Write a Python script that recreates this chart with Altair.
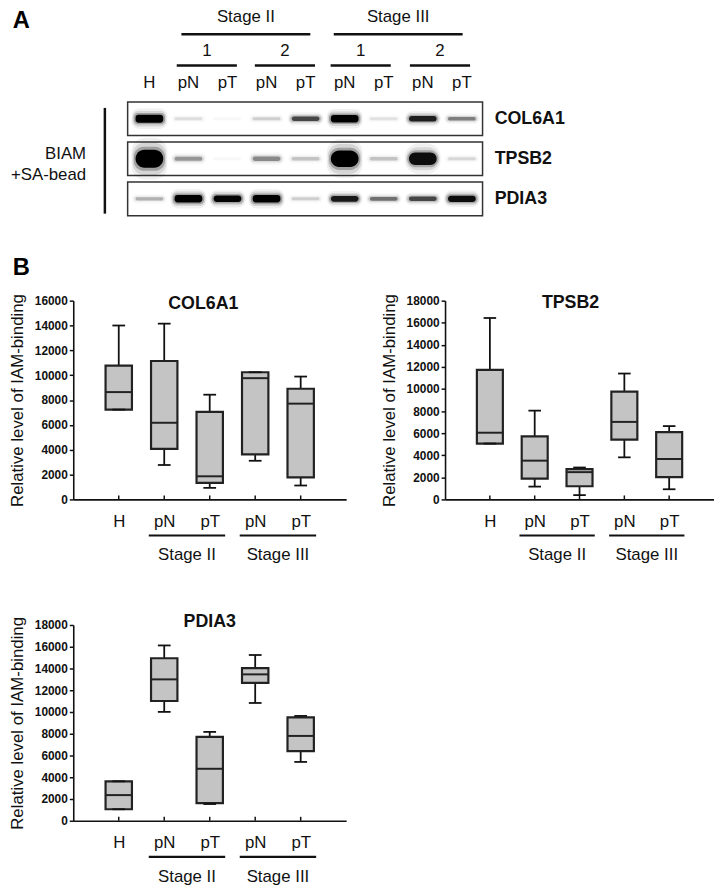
import json
import altair as alt
import pandas as pd

# ---------------- data: panel A (western blot) ----------------
lanes = ["H", "pN", "pT", "pN", "pT", "pN", "pT", "pN", "pT"]
blot_targets = ["COL6A1", "TPSB2", "PDIA3"]
# relative band darkness per lane (0 = no band, 1 = saturated)
band_col6a1 = [1.0, 0.08, 0.02, 0.12, 0.55, 0.95, 0.07, 0.72, 0.35]
band_tpsb2 = [1.0, 0.28, 0.02, 0.32, 0.15, 0.95, 0.15, 0.8, 0.1]
band_pdia3 = [0.2, 0.95, 0.85, 0.95, 0.12, 0.75, 0.4, 0.55, 0.8]
sample_numbers = ["1", "2", "1", "2"]
stage_names = ["Stage II", "Stage III"]
treatment_label = ["BIAM", "+SA-bead"]

# ---------------- data: panel B (box plots) ----------------
box_groups = ["H", "pN", "pT", "pN", "pT"]
box_stage_names = ["Stage II", "Stage III"]

col6a1_min = [7230, 2770, 930, 3110, 1120]
col6a1_q1 = [7230, 4070, 1330, 3620, 1780]
col6a1_med = [8640, 6170, 1860, 9760, 7710]
col6a1_q3 = [10770, 11140, 7050, 10240, 8910]
col6a1_max = [14000, 14150, 8430, 10240, 9890]

tpsb2_min = [5060, 1160, 390, 3810, 920]
tpsb2_q1 = [5060, 1880, 1190, 5420, 2020]
tpsb2_med = [6040, 3510, 2470, 7020, 3660]
tpsb2_q3 = [11730, 5710, 2740, 9760, 6100]
tpsb2_max = [16430, 8040, 2890, 11400, 6640]

pdia3_min = [1060, 10010, 1540, 10830, 5410]
pdia3_q1 = [1060, 11010, 1630, 12670, 6410]
pdia3_med = [2360, 13000, 4780, 13460, 7800]
pdia3_q3 = [3630, 14940, 7710, 14040, 9500]
pdia3_max = [3630, 16120, 8170, 15240, 9640]

# ---------------- styling / layout ----------------
FONT = "Liberation Sans"
BLACK = "#111111"

LANE_PX = 39.5   # pixel distance between blot lanes
LANE0 = 77       # lane 0 offset from plot origin (px)
ROW_PX = 40.5    # pixel distance between blot rows
ROW0 = 110       # row 0 offset from plot top (px)
A_W, A_H = 276, 167

xdomA = [-LANE0 / LANE_PX, (A_W - LANE0) / LANE_PX]
ydomA = [-ROW0 / ROW_PX, (A_H - ROW0) / ROW_PX]


def row_at(px):
    """row coordinate of a given pixel offset from the panel top"""
    return (px - ROW0) / ROW_PX


XA = lambda f: alt.X(f, type="quantitative", scale=alt.Scale(domain=xdomA, nice=False, zero=False), axis=None)
YA = lambda f: alt.Y(f, type="quantitative", scale=alt.Scale(domain=ydomA, nice=False, zero=False, reverse=True), axis=None)

# frames
frames = pd.DataFrame({"target": blot_targets, "row": range(len(blot_targets))})
frame_layer = alt.Chart(frames).transform_calculate(
    x1="-0.557", x2="8.53", y1="datum.row - 0.42", y2="datum.row + 0.42"
).mark_rect(fill="white", stroke="#333333", strokeWidth=1.5).encode(
    x=XA("x1:Q"), x2="x2:Q", y=YA("y1:Q"), y2="y2:Q"
)

band_rows = []
for r, vals in enumerate([band_col6a1, band_tpsb2, band_pdia3]):
    for l, v in enumerate(vals):
        band_rows.append({"row": r, "lane": l, "I": v})
bands = pd.DataFrame(band_rows)

# soft-edged bands: several stacked rounded rects with decreasing opacity
band_levels = [(2.2, 3.0, 0.06, 0.46), (1.7, 2.0, 0.11, 0.43), (1.3, 1.0, 0.25, 0.40), (1.0, 0.0, 1.0, 0.355)]
band_layers = []
for r, (gain, rad) in enumerate([(5, 3), (15, 9), (5, 3)]):
    for k, extra, opk, hw in band_levels:
        band_layers.append(
            alt.Chart(bands).transform_filter(f"datum.row == {r}").transform_calculate(
                th=f"(3 + {gain} * datum.I * datum.I) * {k} + {extra}",
            ).transform_calculate(
                y1=f"datum.row - datum.th / 2 / {ROW_PX}",
                y2=f"datum.row + datum.th / 2 / {ROW_PX}",
                x1=f"datum.lane - {hw}",
                x2=f"datum.lane + {hw}",
                op=f"min(1, datum.I * 1.15) * {opk}",
            ).mark_rect(color="black", cornerRadius=rad + (k - 1) * 4).encode(
                x=XA("x1:Q"), x2="x2:Q", y=YA("y1:Q"), y2="y2:Q",
                opacity=alt.Opacity("op:Q", scale=None),
            )
        )

lane_df = pd.DataFrame({"lab": lanes, "lane": range(len(lanes))})
lane_text = alt.Chart(lane_df).transform_calculate(r="-0.89").mark_text(
    font=FONT, fontSize=17, color=BLACK, baseline="middle"
).encode(x=XA("lane:Q"), y=YA("r:Q"), text="lab:N")

sub_df = pd.DataFrame({"lab": sample_numbers, "c": [1.47, 3.47, 5.41, 7.44]})
sub_text = alt.Chart(sub_df).transform_calculate(r="-1.68").mark_text(
    font=FONT, fontSize=17, color=BLACK, baseline="middle"
).encode(x=XA("c:Q"), y=YA("r:Q"), text="lab:N")
sub_line = alt.Chart(sub_df).transform_calculate(
    x1="datum.c - 0.77", x2="datum.c + 0.77", r="-1.33"
).mark_rule(color=BLACK, strokeWidth=2.5).encode(x=XA("x1:Q"), x2="x2:Q", y=YA("r:Q"))

stage_df = pd.DataFrame({"lab": stage_names, "c": [2.47, 6.37]})
stage_text = alt.Chart(stage_df).transform_calculate(r=str(row_at(6.75))).mark_text(
    font=FONT, fontSize=17, color=BLACK, baseline="middle"
).encode(x=XA("c:Q"), y=YA("r:Q"), text="lab:N")
stage_line = alt.Chart(stage_df).transform_calculate(
    x1="datum.c - 1.65", x2="datum.c + 1.65", r="-2.11"
).mark_rule(color=BLACK, strokeWidth=2.5).encode(x=XA("x1:Q"), x2="x2:Q", y=YA("r:Q"))

target_text = alt.Chart(frames).transform_calculate(x="8.84").mark_text(
    font=FONT, fontSize=18, fontWeight="bold", color=BLACK, align="left", baseline="middle"
).encode(x=XA("x:Q"), y=YA("row:Q"), text="target:N")

vline = alt.Chart(pd.DataFrame({"x": [-1.14]})).transform_calculate(
    y1="-0.27", y2="2.37"
).mark_rule(color=BLACK, strokeWidth=2.5).encode(x=XA("x:Q"), y=YA("y1:Q"), y2="y2:Q")

treat_df = pd.DataFrame({"lab": treatment_label, "r": [0.89, 1.41]})
treat_text = alt.Chart(treat_df).transform_calculate(x="-1.62").mark_text(
    font=FONT, fontSize=17, color=BLACK, align="right", baseline="middle"
).encode(x=XA("x:Q"), y=YA("r:Q"), text="lab:N")

letterA = alt.Chart(pd.DataFrame({"lab": ["A"], "r": [row_at(10.8)]})).transform_calculate(x="-3.5").mark_text(
    font=FONT, fontSize=24, fontWeight="bold", color="black", align="left", baseline="middle"
).encode(x=XA("x:Q"), y=YA("r:Q"), text="lab:N")
letterB = alt.Chart(pd.DataFrame({"lab": ["B"], "r": [3.74]})).transform_calculate(x="-3.5").mark_text(
    font=FONT, fontSize=24, fontWeight="bold", color="black", align="left", baseline="middle"
).encode(x=XA("x:Q"), y=YA("r:Q"), text="lab:N")

panelA = alt.layer(
    frame_layer, *band_layers, lane_text, sub_text, sub_line, stage_text, stage_line,
    target_text, vline, treat_text, letterA, letterB
).properties(width=A_W, height=A_H)


# ---------------- panel B ----------------
label_expr = json.dumps(box_groups) + "[datum.value - 1]"


def box_panel(title, mins, q1s, meds, q3s, maxs, ymax, w, h, tx, ty):
    df = pd.DataFrame({
        "pos": list(range(1, len(box_groups) + 1)), "grp": box_groups,
        "mn": mins, "q1": q1s, "med": meds, "q3": q3s, "mx": maxs,
    })
    xaxis = alt.Axis(
        values=[1, 2, 3, 4, 5], labelExpr=label_expr, tickSize=0, labelPadding=14,
        labelFont=FONT, labelFontSize=17, labelColor=BLACK, domainColor=BLACK,
        domainWidth=1.6, grid=False, labelAngle=0,
    )
    yaxis = alt.Axis(
        values=list(range(0, ymax + 1, 2000)), format="d", labelFont=FONT,
        labelFontSize=12, labelFontWeight="bold", labelColor=BLACK, tickSize=4,
        tickWidth=1.5, tickColor=BLACK, labelPadding=2, domainColor=BLACK,
        domainWidth=1.6, grid=False, title="Relative level of IAM-binding",
        titleFont=FONT, titleFontSize=17, titleFontWeight="normal", titleColor=BLACK,
        titlePadding=8,
    )
    X = lambda f: alt.X(f, type="quantitative", scale=alt.Scale(domain=[0, 6], nice=False, zero=False),
                        axis=xaxis, title=None)
    Y = lambda f: alt.Y(f, type="quantitative", scale=alt.Scale(domain=[0, ymax], nice=False),
                        axis=yaxis, title="Relative level of IAM-binding")
    base = alt.Chart(df).transform_calculate(
        lo="datum.pos - 0.29", hi="datum.pos + 0.29",
        clo="datum.pos - 0.14", chi="datum.pos + 0.14",
    )
    whisk = base.mark_rule(color=BLACK, strokeWidth=1.8).encode(x=X("pos:Q"), y=Y("mn:Q"), y2="mx:Q")
    box = base.mark_rect(fill="#c4c4c4", stroke="#222222", strokeWidth=2.2).encode(
        x=X("lo:Q"), x2="hi:Q", y=Y("q1:Q"), y2="q3:Q")
    med = base.mark_rule(color="#222222", strokeWidth=2).encode(x=X("lo:Q"), x2="hi:Q", y=Y("med:Q"))
    cap_lo = base.mark_rule(color=BLACK, strokeWidth=1.8).encode(x=X("clo:Q"), x2="chi:Q", y=Y("mn:Q"))
    cap_hi = base.mark_rule(color=BLACK, strokeWidth=1.8).encode(x=X("clo:Q"), x2="chi:Q", y=Y("mx:Q"))
    ticks = base.mark_rule(color=BLACK, strokeWidth=1.5).encode(
        x=X("pos:Q"), y=alt.value(h), y2=alt.value(h - 4))
    ttl = alt.Chart(pd.DataFrame({"t": [title], "x": [tx], "y": [ty]})).mark_text(
        font=FONT, fontSize=18, fontWeight="bold", color=BLACK, baseline="middle"
    ).encode(x=X("x:Q"), y=Y("y:Q"), text="t:N")
    sdf = pd.DataFrame({"lab": box_stage_names, "c": [2.5, 4.5]})
    sline = alt.Chart(sdf).transform_calculate(lo="datum.c - 0.84", hi="datum.c + 0.84").mark_rule(
        color=BLACK, strokeWidth=2.2).encode(x=X("lo:Q"), x2="hi:Q", y=alt.value(h + 36.5))
    stext = alt.Chart(sdf).mark_text(font=FONT, fontSize=17, color=BLACK, baseline="middle").encode(
        x=X("c:Q"), y=alt.value(h + 56.5), text="lab:N")
    return alt.layer(whisk, box, med, cap_lo, cap_hi, ticks, ttl, sline, stext).properties(width=w, height=h)


p_col = box_panel("COL6A1", col6a1_min, col6a1_q1, col6a1_med, col6a1_q3, col6a1_max, 16000, 276, 201, 2.86, 15700)
p_tps = box_panel("TPSB2", tpsb2_min, tpsb2_q1, tpsb2_med, tpsb2_q3, tpsb2_max, 18000, 272, 201, 2.8, 17800)
p_pdi = box_panel("PDIA3", pdia3_min, pdia3_q1, pdia3_med, pdia3_q3, pdia3_max, 18000, 276, 198, 3.0, 18300)

spacer = alt.Chart(pd.DataFrame({"v": [0]})).mark_point(opacity=0).encode(
    x=alt.X("v:Q", axis=None), y=alt.Y("v:Q", axis=None)
).properties(width=10, height=10)

chart = alt.concat(
    panelA, spacer, p_col, p_tps, p_pdi,
    columns=2, spacing={"row": 127, "column": 100}, bounds="flush", align="each",
).properties(
    padding={"left": 0, "top": -6, "right": 0, "bottom": -3}, background="white"
).configure_view(stroke=None)

chart.save("out.html", embed_options={"renderer": "svg", "actions": False})
